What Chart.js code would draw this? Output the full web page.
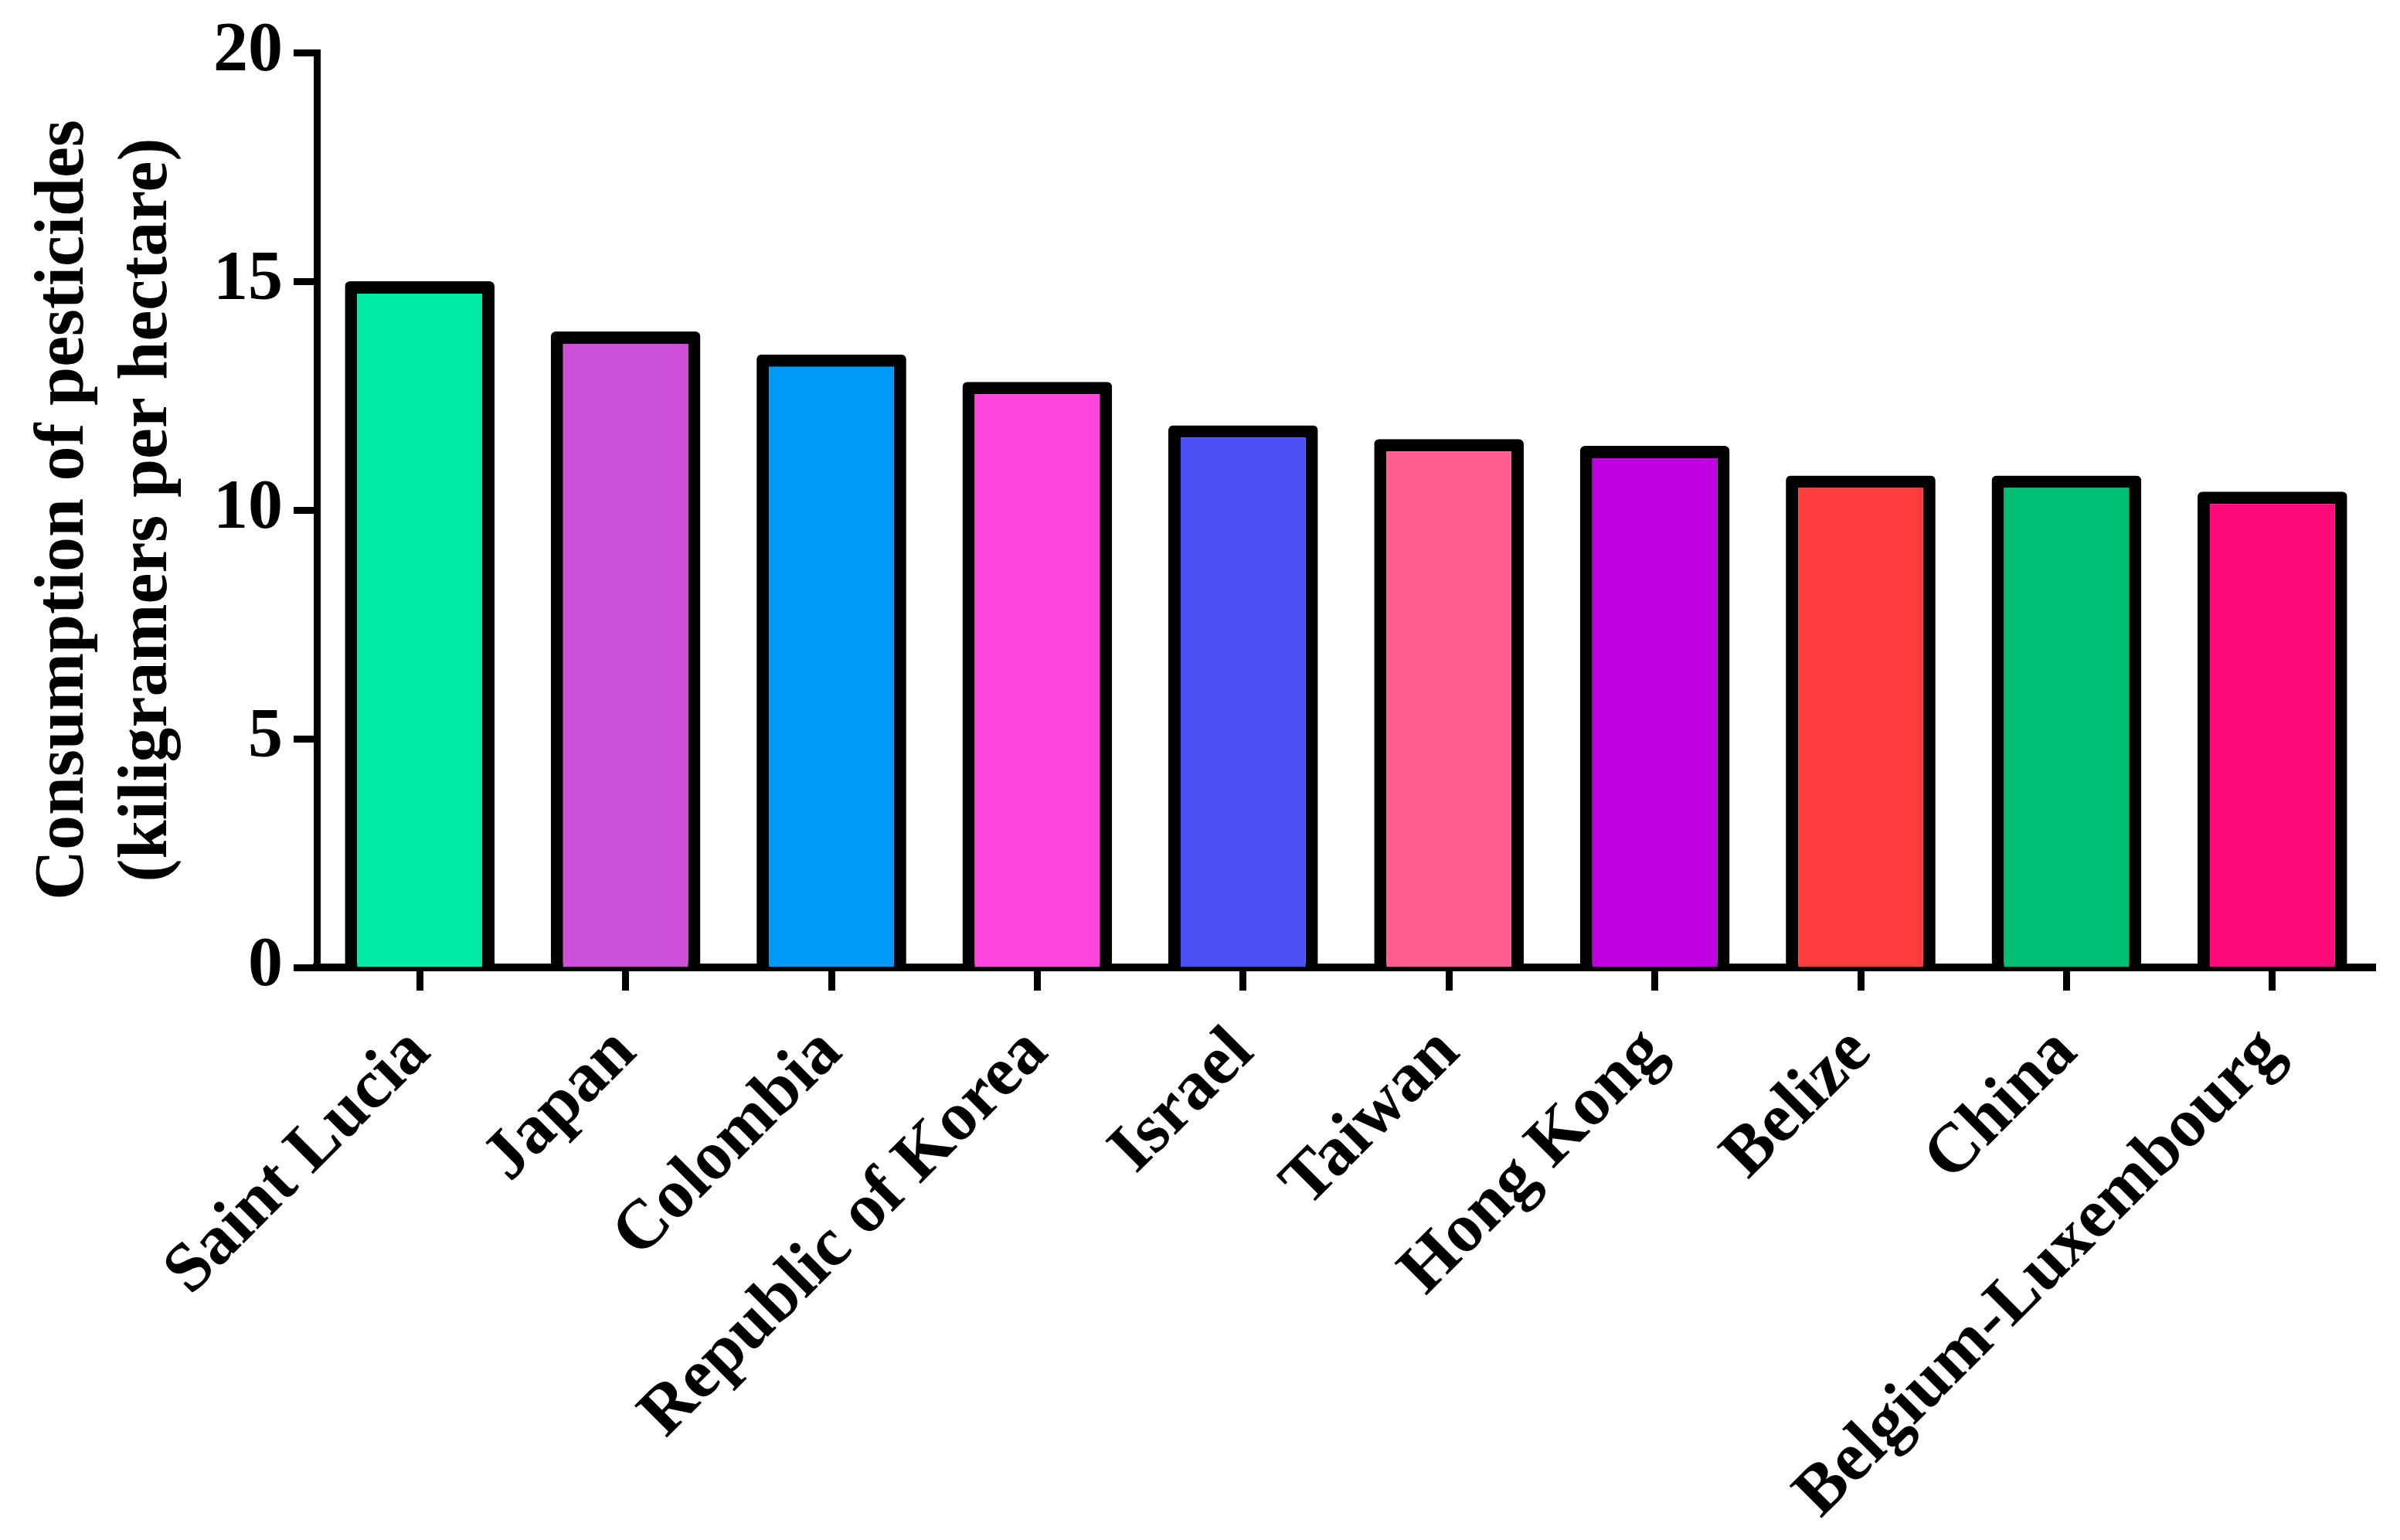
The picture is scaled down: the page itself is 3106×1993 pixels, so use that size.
<!DOCTYPE html>
<html>
<head>
<meta charset="utf-8">
<script src="https://cdn.jsdelivr.net/npm/chart.js@4.4.1/dist/chart.umd.min.js"></script>
<style>
  html, body { margin: 0; padding: 0; background: #fff; }
  #wrap { width: 3106px; height: 1993px; }
</style>
</head>
<body>
<div id="wrap"><canvas id="chart" width="3106" height="1993"></canvas></div>
<script>
const countries = ['Saint Lucia', 'Japan', 'Colombia', 'Republic of Korea', 'Israel',
  'Taiwan', 'Hong Kong', 'Belize', 'China', 'Belgium-Luxembourg'];
const consumption = [15.0, 13.9, 13.4, 12.8, 11.85, 11.55, 11.4, 10.75, 10.75, 10.4];
const barColors = ['#00eaa8', '#cc50d8', '#0099f8', '#ff46dc', '#4b50f4',
  '#ff5e8e', '#c000e0', '#ff3c3c', '#00bf74', '#ff0a7a'];
const yTitle = ['Consumption of pesticides', '(kiligramers per hectare)'];

const whiteBg = {
  id: 'whiteBg',
  beforeDraw(c) {
    const ctx = c.ctx;
    ctx.save();
    ctx.fillStyle = '#fff';
    ctx.fillRect(0, 0, c.width, c.height);
    ctx.restore();
  }
};

const font = { family: "'Liberation Serif', 'Times New Roman', serif", weight: 'bold', size: 90 };

new Chart(document.getElementById('chart').getContext('2d'), {
  type: 'bar',
  data: {
    labels: countries,
    datasets: [{
      data: consumption,
      backgroundColor: barColors,
      borderColor: '#000',
      borderWidth: 16,
      borderRadius: 6,
      borderSkipped: 'start',
      categoryPercentage: 1,
      barPercentage: 0.727
    }]
  },
  options: {
    responsive: false,
    animation: false,
    layout: { padding: { top: 59, right: 32, left: 0, bottom: 0 } },
    plugins: { legend: { display: false }, tooltip: { enabled: false } },
    scales: {
      x: {
        offset: true,
        grid: { offset: false, drawOnChartArea: false, drawTicks: true, tickLength: 30, tickWidth: 9, tickColor: '#000' },
        border: { display: true, width: 10, color: '#000' },
        ticks: { color: '#000', font: font, maxRotation: 45, minRotation: 45, autoSkip: false, padding: 28 },
        afterFit(s) { s.height = 741; }
      },
      y: {
        min: 0,
        max: 20,
        grid: { drawOnChartArea: false, drawTicks: true, tickLength: 30, tickWidth: 9, tickColor: '#000' },
        border: { display: true, width: 9, color: '#000' },
        ticks: { stepSize: 5, color: '#000', font: font, padding: 14 },
        title: { display: true, text: yTitle, color: '#000', font: font, padding: { top: 30, bottom: 0 } },
        afterFit(s) { s.width = 410; }
      }
    }
  },
  plugins: [whiteBg]
});
</script>
</body>
</html>
